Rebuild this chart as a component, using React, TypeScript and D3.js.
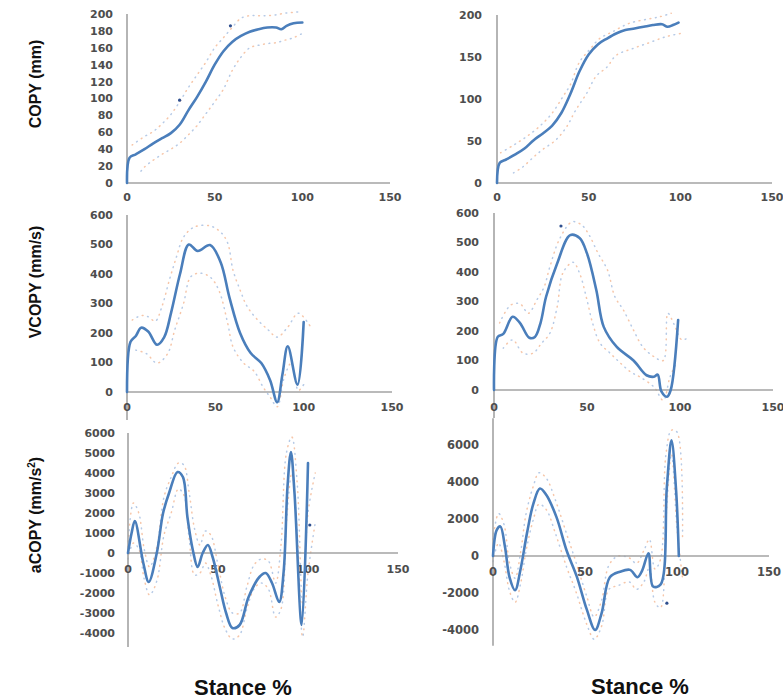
import React from 'react';
import * as d3 from 'd3';

// ---------- DATA ----------
const xTicks = [0, 50, 100, 150];

// Panel 1: COPY left
const p1X = [0, 1.5, 5, 10, 15, 20, 25, 30, 35, 40, 45, 50, 55, 60, 65, 70, 75, 80, 85, 88, 91, 95, 100];
const p1Mean = [0, 30, 34, 40, 47, 53, 59, 69, 86, 102, 120, 140, 156, 167, 174, 179, 182, 184, 184, 182, 186, 189, 190];
const p1UpX = [3, 5, 10, 15, 20, 25, 30, 35, 40, 45, 50, 55, 60, 65, 70, 75, 80, 85, 90, 95, 100];
const p1Up = [45, 48, 55, 61, 70, 81, 96, 113, 128, 143, 160, 172, 184, 195, 198, 198, 198, 199, 201, 202, 203];
const p1LoX = [8, 10, 15, 20, 25, 30, 35, 40, 45, 50, 55, 60, 65, 70, 75, 80, 85, 90, 95, 100];
const p1Lo = [14, 19, 27, 34, 40, 47, 57, 68, 82, 96, 111, 133, 149, 160, 163, 165, 166, 169, 172, 177];
const p1DotX = [30, 59];
const p1DotY = [98, 186];
const p1YTicks = [0, 20, 40, 60, 80, 100, 120, 140, 160, 180, 200];

// Panel 2: COPY right
const p2X = [0, 1.5, 5, 10, 15, 20, 25, 30, 35, 40, 45, 50, 55, 60, 65, 70, 75, 80, 85, 90, 93, 96, 99];
const p2Mean = [0, 24, 28, 34, 41, 51, 59, 68, 83, 106, 133, 153, 165, 172, 178, 182, 184, 186, 188, 189, 186, 188, 191];
const p2UpX = [2, 9, 16, 23, 30, 36, 40, 45, 51, 56, 63, 72, 82, 89, 95];
const p2Up = [36, 45, 55, 67, 83, 103, 117, 144, 160, 172, 180, 190, 195, 198, 202];
const p2LoX = [9, 14, 20, 25, 32, 38, 43, 49, 54, 60, 65, 74, 83, 92, 100];
const p2Lo = [12, 19, 31, 40, 51, 67, 87, 107, 127, 138, 152, 160, 167, 174, 178];
const p2YTicks = [0, 50, 100, 150, 200];

// Panel 3: VCOPY left
const p3X = [0, 2, 5, 8, 12, 17, 21, 25, 30, 35, 40, 47, 53, 58, 64, 70, 76, 81, 85, 88, 91, 96.5, 100];
const p3Mean = [0, 170, 190, 218, 205, 160, 185, 270, 400, 500, 478, 498, 440, 320, 200, 132, 98, 40, -35, 60, 155, 25, 237];
const p3UpX = [3, 8, 12, 16, 20, 24, 28, 32, 38, 47, 53, 57, 60, 64, 68, 74, 80, 85, 91, 97, 104];
const p3Up = [244, 259, 255, 240, 294, 380, 458, 525, 559, 563, 542, 505, 413, 346, 290, 244, 210, 186, 220, 267, 220];
const p3LoX = [5, 11, 17, 23, 27, 32, 36, 41, 47, 52, 57, 60, 66, 72, 77, 81, 85, 89, 93, 97, 100];
const p3Lo = [142, 130, 98, 130, 210, 300, 390, 403, 390, 345, 233, 153, 98, 70, 17, -17, -50, 50, 98, 5, 25];
const vYTicks = [0, 100, 200, 300, 400, 500, 600];

// Panel 4: VCOPY right
const p4X = [0, 2, 5, 10, 14, 19, 22, 25, 28, 34, 41, 46, 50, 55, 59, 66, 75, 82, 86, 88, 90, 93, 95, 99];
const p4Mean = [0, 180, 190, 248, 227, 177, 180, 227, 316, 430, 525, 515, 463, 339, 214, 146, 100, 50, 45, 52, -5, -23, 0, 237];
const p4UpX = [3, 9, 14, 18.5, 23, 27, 30, 35.5, 42, 47, 51, 56, 61, 65, 69.5, 75, 80, 86, 91, 93.5, 97, 101, 105];
const p4Up = [227, 288, 292, 260, 305, 350, 417, 515, 570, 560, 527, 463, 407, 316, 272, 203, 146, 113, 100, 260, 220, 170, 180];
const p4LoX = [5, 10, 15.6, 21, 25.5, 30, 34, 37, 42.5, 46, 50, 53, 57, 62.4, 68, 73.5, 78.5, 86, 91, 94.6, 98];
const p4Lo = [142, 170, 125, 125, 158, 192, 283, 396, 433, 396, 305, 227, 159, 125, 91, 61, 44, 10, -35, 44, 90];
const p4DotX = [36];
const p4DotY = [556];

// Panel 5: aCOPY left
const p5X = [0, 2, 3.8, 8.5, 11.5, 16, 19.5, 23, 27.5, 30.5, 33, 36, 38.7, 41.5, 44.4, 47, 51, 54.5, 58, 62, 67, 73, 76.5, 80, 84, 86.5, 88.6, 90.5, 92.5, 96.5, 100];
const p5Mean = [0, 1000, 1600, -500, -1450, 0, 2000, 3050, 4050, 3800, 1800, 150, -700, 0, 400, -200, -1700, -3000, -3750, -3600, -2200, -1200, -1000, -1500, -2450, -900, 3300, 5050, 3000, -3600, 4500];
const p5BandX = [0, 3, 6, 9, 12, 16, 20, 24, 28, 31, 34, 37, 40, 43, 46, 50, 54, 58, 62, 66, 70, 74, 78, 82, 85, 88, 91, 94, 97, 100, 104];
const p5Up = [300, 2500, 2000, 200, -700, 300, 2800, 3800, 4500, 4400, 3000, 1200, 400, 1100, 900, -600, -2200, -3000, -3000, -1700, -600, -300, -400, -1500, 400, 5000, 5800, 3500, -2500, 2000, 4000];
const p5Lo = [-300, 500, 200, -1300, -2100, -1400, 900, 2000, 3200, 2900, 700, -1100, -1000, -500, -1100, -2600, -3800, -4300, -4100, -2800, -1800, -1500, -1800, -3200, -2800, 1500, 4000, 1000, -4200, -1000, 1500];
const p5DotX = [101];
const p5DotY = [1400];
const p5YTicks = [-4000, -3000, -2000, -1000, 0, 1000, 2000, 3000, 4000, 5000, 6000];

// Panel 6: aCOPY right
const p6X = [0, 2, 4, 6.5, 9, 12, 15, 18.5, 22, 25.5, 29, 34.5, 40, 45.5, 51, 55.5, 59, 63.5, 69, 74.5, 78.5, 81, 84.5, 87, 91, 94.5, 97, 99.5, 101];
const p6Mean = [0, 1400, 1600, 500, -1150, -1850, -700, 1250, 2850, 3650, 3300, 2100, 300, -1100, -2900, -4000, -3100, -1150, -850, -750, -1150, -800, 150, -1650, -1550, 3750, 6250, 3550, 0];
const p6BandX = [0, 3, 6, 9, 12, 15, 18, 22, 25, 29, 34, 40, 45, 51, 55, 59, 63, 68, 74, 78, 82, 85, 88, 91, 94, 97, 100, 103];
const p6Up = [900, 2300, 1700, -400, -1200, 200, 2300, 3800, 4500, 4200, 3000, 1200, -300, -2200, -3300, -2400, -500, 0, -100, -400, 300, 900, -700, -200, 5500, 6800, 6700, 1000];
const p6Lo = [-300, 700, -300, -1900, -2500, -1500, 300, 2000, 2800, 2500, 1200, -600, -1900, -3700, -4500, -3800, -1800, -1600, -1400, -1800, -1400, -600, -2500, -2800, 2000, 5500, 1500, -1200];
const p6DotX = [94.5];
const p6DotY = [-2550];
const p6YTicks = [-4000, -2000, 0, 2000, 4000, 6000];

// ---------- LAYOUT ----------
type Panel = {
  xr: [number, number];
  yd: [number, number];
  yr: [number, number];
  yLine: [number, number];
  yTicks: number[];
  xLabelY: number | null;
  labelRight: number;
  fs: number;
  x: number[]; mean: number[];
  upX: number[]; up: number[];
  loX: number[]; lo: number[];
  dotX?: number[]; dotY?: number[];
};

const panels: Panel[] = [
  { xr: [127, 390], yd: [0, 200], yr: [183, 14], yLine: [0, 200], yTicks: p1YTicks, xLabelY: 201, labelRight: 113, fs: 11,
    x: p1X, mean: p1Mean, upX: p1UpX, up: p1Up, loX: p1LoX, lo: p1Lo, dotX: p1DotX, dotY: p1DotY },
  { xr: [497, 772], yd: [0, 200], yr: [183, 15], yLine: [0, 200], yTicks: p2YTicks, xLabelY: 201, labelRight: 482, fs: 11,
    x: p2X, mean: p2Mean, upX: p2UpX, up: p2Up, loX: p2LoX, lo: p2Lo },
  { xr: [127, 392], yd: [0, 600], yr: [392, 215], yLine: [-95, 600], yTicks: vYTicks, xLabelY: 411, labelRight: 113, fs: 11,
    x: p3X, mean: p3Mean, upX: p3UpX, up: p3Up, loX: p3LoX, lo: p3Lo },
  { xr: [494, 773], yd: [0, 600], yr: [390, 213], yLine: [-95, 600], yTicks: vYTicks, xLabelY: 411, labelRight: 479, fs: 11,
    x: p4X, mean: p4Mean, upX: p4UpX, up: p4Up, loX: p4LoX, lo: p4Lo, dotX: p4DotX, dotY: p4DotY },
  { xr: [128, 398], yd: [0, 6000], yr: [553, 433], yLine: [-4700, 6000], yTicks: p5YTicks, xLabelY: null, labelRight: 115, fs: 11,
    x: p5X, mean: p5Mean, upX: p5BandX, up: p5Up, loX: p5BandX, lo: p5Lo, dotX: p5DotX, dotY: p5DotY },
  { xr: [493, 769], yd: [0, 6000], yr: [556, 445], yLine: [-4850, 7450], yTicks: p6YTicks, xLabelY: null, labelRight: 479, fs: 11.5,
    x: p6X, mean: p6Mean, upX: p6BandX, up: p6Up, loX: p6BandX, lo: p6Lo, dotX: p6DotX, dotY: p6DotY },
];

const BLUE = '#4a7ebb';
const AXIS = '#a3a3a3';
const TICK_FONT = '"DejaVu Sans", Verdana, sans-serif';
const TITLE_FONT = '"Liberation Sans", Arial, sans-serif';

function PanelView({ p }: { p: Panel }) {
  const xs = d3.scaleLinear().domain([0, 150]).range(p.xr);
  const ys = d3.scaleLinear().domain(p.yd).range(p.yr);
  const line = d3.line<[number, number]>()
    .x(d => xs(d[0]))
    .y(d => ys(d[1]))
    .curve(d3.curveCatmullRom.alpha(0.5));
  const meanPts = p.x.map((v, i) => [v, p.mean[i]] as [number, number]);
  const upPts = p.upX.map((v, i) => [v, p.up[i]] as [number, number]);
  const loPts = p.loX.map((v, i) => [v, p.lo[i]] as [number, number]);
  const y0 = ys(0);
  const bandStyle = (color: string, offset: number) => ({
    fill: 'none', stroke: color, strokeWidth: 1.5, strokeDasharray: '0.8 10.2',
    strokeDashoffset: offset, strokeLinecap: 'round' as const, opacity: 0.6,
  });
  return (
    <g>
      <path d={line(upPts) || ''} style={bandStyle('#f0a070', 0)} />
      <path d={line(upPts) || ''} style={bandStyle('#86a6d6', 5.5)} />
      <path d={line(loPts) || ''} style={bandStyle('#f0a070', 5.5)} />
      <path d={line(loPts) || ''} style={bandStyle('#86a6d6', 0)} />
      <line x1={xs(0)} x2={xs(0)} y1={ys(p.yLine[0])} y2={ys(p.yLine[1])} stroke={AXIS} strokeWidth={1.6} />
      <line x1={xs(0)} x2={xs(150)} y1={y0} y2={y0} stroke={AXIS} strokeWidth={1.6} />
      {p.yTicks.map(t => (
        <text key={'y' + t} x={p.labelRight} y={ys(t)} dy="0.36em" textAnchor="end"
          fontFamily={TICK_FONT} fontWeight="bold" fontSize={p.fs} fill="#4d4d4d">{t}</text>
      ))}
      {xTicks.map(t => (
        <text key={'x' + t} x={xs(t)} y={p.xLabelY !== null ? p.xLabelY : y0 + 20} textAnchor="middle"
          fontFamily={TICK_FONT} fontWeight="bold" fontSize={p.fs} fill="#4d4d4d">{t}</text>
      ))}
      <path d={line(meanPts) || ''} fill="none" stroke={BLUE} strokeWidth={2.6} strokeLinejoin="round" strokeLinecap="round" />
      {(p.dotX || []).map((v, i) => (
        <circle key={'d' + i} cx={xs(v)} cy={ys((p.dotY || [])[i])} r={1.6} fill="#2f4f8f" />
      ))}
    </g>
  );
}

export default function App() {
  return (
    <svg width={783} height={699} style={{ position: 'absolute', left: 0, top: 0, background: '#fff' }}
      xmlns="http://www.w3.org/2000/svg">
      <rect x={0} y={0} width={783} height={699} fill="#fff" />
      {panels.map((p, i) => <PanelView key={i} p={p} />)}
      <text transform="translate(41,84) rotate(-90)" textAnchor="middle" fontFamily={TITLE_FONT}
        fontWeight="bold" fontSize={16} fill="#111">COPY (mm)</text>
      <text transform="translate(41,282) rotate(-90)" textAnchor="middle" fontFamily={TITLE_FONT}
        fontWeight="bold" fontSize={16} fill="#111">VCOPY (mm/s)</text>
      <text transform="translate(41,515) rotate(-90)" textAnchor="middle" fontFamily={TITLE_FONT}
        fontWeight="bold" fontSize={16} fill="#111">aCOPY (mm/s<tspan fontSize={10} dy={-6}>2</tspan><tspan dy={6}>)</tspan></text>
      <text x={243} y={695} textAnchor="middle" fontFamily={TITLE_FONT} fontWeight="bold" fontSize={22} fill="#111">Stance %</text>
      <text x={640} y={694} textAnchor="middle" fontFamily={TITLE_FONT} fontWeight="bold" fontSize={22} fill="#111">Stance %</text>
    </svg>
  );
}
